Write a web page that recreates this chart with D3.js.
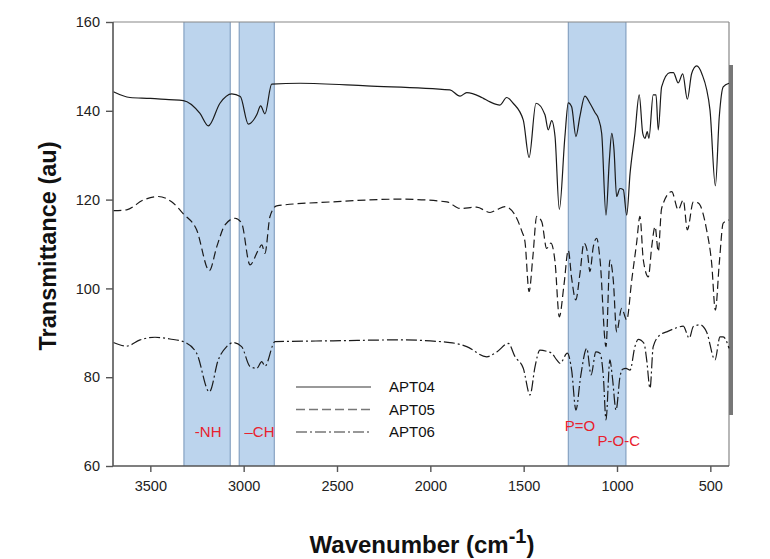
<!DOCTYPE html>
<html>
<head>
<meta charset="utf-8">
<script src="https://cdn.jsdelivr.net/npm/d3@7"></script>
<style>
  body { margin: 0; background: #fff; }
  svg { display: block; font-family: "Liberation Sans", Arial, sans-serif; }
</style>
</head>
<body>
<svg id="chart" width="770" height="559"></svg>
<script>
// ---------------- data ----------------
const xTicks = [3500, 3000, 2500, 2000, 1500, 1000, 500];
const yTicks = [60, 80, 100, 120, 140, 160];
const seriesNames = ["APT04", "APT05", "APT06"];

// [wavenumber (cm-1), transmittance (au)]
const apt04 = [
  [3698,144.3],[3609,143.0],[3500,142.8],[3400,142.5],[3323,142.3],[3234,139.4],[3189,136.6],[3127,141.7],
  [3064,143.8],[3018,143.2],[2975,137.0],[2930,139.1],[2909,141.1],[2886,139.3],[2850,146.0],
  [2698,146.2],[2341,145.6],[1895,144.7],[1841,143.3],[1805,144.1],[1734,143.2],[1716,142.8],
  [1680,142.0],[1627,141.3],[1591,143.0],[1556,141.7],[1502,137.9],[1471,129.5],[1434,141.7],
  [1386,139.1],[1368,135.7],[1350,137.8],[1332,134.2],[1309,117.8],[1279,134.2],[1261,141.8],
  [1243,140.9],[1220,134.2],[1199,138.7],[1172,143.3],[1145,141.7],[1118,139.6],[1100,138.3],
  [1082,134.9],[1059,116.5],[1041,128.9],[1028,134.9],[1016,131.2],[1002,120.7],[984,122.5],
  [966,122.2],[948,116.5],[930,125.9],[904,134.9],[881,143.6],[862,134.9],[850,133.8],
  [838,135.3],[829,133.8],[806,143.6],[791,143.6],[779,135.7],[761,145.4],[716,148.6],
  [698,148.6],[672,146.3],[648,148.3],[623,142.6],[600,148.4],[573,150.1],[546,148.4],
  [502,140.2],[473,123.1],[452,138.7],[431,145.4],[400,146.2]
];
const apt05 = [
  [3698,117.5],[3627,117.7],[3538,119.9],[3457,120.7],[3386,119.5],[3323,116.8],[3252,113.2],
  [3184,104.0],[3144,109.4],[3100,114.3],[3046,115.8],[3011,114.7],[2966,105.3],[2922,108.6],
  [2903,109.8],[2886,107.9],[2859,116.2],[2823,118.6],[2520,119.5],[2163,120.1],[1912,119.5],
  [1841,118.0],[1752,118.3],[1680,117.1],[1644,117.7],[1600,118.4],[1546,116.5],[1511,113.0],
  [1493,110.5],[1471,99.3],[1451,107.0],[1430,116.2],[1403,115.0],[1377,109.0],[1354,110.2],
  [1332,106.0],[1309,93.6],[1284,100.8],[1261,108.6],[1243,102.3],[1221,97.4],[1198,103.5],
  [1177,110.2],[1159,108.3],[1145,103.8],[1127,109.4],[1109,111.3],[1091,106.5],[1059,86.9],
  [1038,106.4],[1020,101.9],[1002,90.2],[975,95.5],[948,92.9],[921,101.9],[895,110.2],
  [877,116.2],[859,106.4],[832,102.6],[814,109.4],[796,113.9],[779,108.3],[761,118.0],
  [707,121.8],[672,117.7],[645,119.9],[623,113.2],[591,119.5],[564,119.2],[520,113.2],
  [493,105.7],[473,95.1],[452,105.7],[431,114.7],[400,115.4]
];
const apt06 = [
  [3698,87.8],[3627,87.0],[3555,88.4],[3475,89.0],[3395,88.6],[3323,88.0],[3252,85.4],
  [3184,76.7],[3136,83.9],[3091,86.9],[3056,87.8],[3011,86.9],[2966,82.4],[2930,82.0],
  [2903,83.5],[2886,82.5],[2832,88.0],[2520,88.2],[2163,88.4],[1895,87.8],[1805,86.9],
  [1698,84.6],[1644,85.7],[1582,87.6],[1546,84.6],[1502,82.0],[1466,76.0],[1439,82.4],
  [1413,86.1],[1368,85.7],[1350,85.4],[1323,83.9],[1305,83.1],[1266,85.4],[1243,81.6],
  [1220,72.6],[1195,80.1],[1162,86.5],[1139,80.5],[1113,85.7],[1091,85.4],[1073,80.1],
  [1059,70.4],[1038,83.9],[1025,80.1],[1005,72.6],[984,80.1],[970,81.8],[952,82.0],
  [930,81.6],[904,86.9],[886,88.5],[855,87.6],[841,83.9],[823,77.5],[806,86.9],[770,89.5],
  [734,90.2],[689,91.0],[645,91.5],[613,88.8],[591,91.4],[555,91.8],[520,90.2],[475,83.9],
  [448,89.1],[431,89.1],[400,86.5]
];
// highlighted bands [from, to] in cm-1
const bands = [[3320, 3072], [3024, 2836], [1261, 952]];
// band annotations: [label, wavenumber, transmittance]
const bandLabels = [["-NH", 3190, 67.7], ["\u2013CH", 2915, 67.7], ["P=O", 1198, 69.0], ["P-O-C", 990, 65.6]];

// ---------------- layout ----------------
const svg = d3.select("#chart");
const L = 113, R = 729, T = 22, B = 466;
const x = d3.scaleLinear().domain([3700, 400]).range([L, R]);
const y = d3.scaleLinear().domain([60, 160]).range([B, T]);

// bands
svg.append("g").selectAll("rect").data(bands).join("rect")
  .attr("x", d => x(d[0])).attr("y", T)
  .attr("width", d => x(d[1]) - x(d[0])).attr("height", B - T)
  .attr("fill", "#bcd4ed");
svg.append("g").selectAll("line").data(bands.flat()).join("line")
  .attr("x1", d => x(d)).attr("x2", d => x(d)).attr("y1", T).attr("y2", B)
  .attr("stroke", "#7795b8").attr("stroke-width", 1);

// frame: top and right
svg.append("line").attr("x1", L).attr("x2", R).attr("y1", T).attr("y2", T)
  .attr("stroke", "#888").attr("stroke-width", 1.2);
svg.append("line").attr("x1", R).attr("x2", R).attr("y1", T).attr("y2", B)
  .attr("stroke", "#888").attr("stroke-width", 1.2);
svg.append("rect").attr("x", R).attr("y", 65).attr("width", 4).attr("height", 350).attr("fill", "#777");

// curves
const line = d3.line().x(d => x(d[0])).y(d => y(d[1])).curve(d3.curveMonotoneX);
const styles = [
  { data: apt04, dash: null },
  { data: apt05, dash: "8,4" },
  { data: apt06, dash: "11,3,2,3" }
];
svg.append("g").selectAll("path").data(styles).join("path")
  .attr("d", d => line(d.data))
  .attr("fill", "none").attr("stroke", "#1a1a1a").attr("stroke-width", 1.2)
  .attr("stroke-dasharray", d => d.dash);

// axes
const xAxis = svg.append("g").attr("transform", `translate(0,${B})`)
  .call(d3.axisBottom(x).tickValues(xTicks).tickSize(6).tickPadding(9).tickFormat(d3.format("d")));
const yAxis = svg.append("g").attr("transform", `translate(${L},0)`)
  .call(d3.axisLeft(y).tickValues(yTicks).tickSize(7).tickPadding(6));
[xAxis, yAxis].forEach(a => {
  a.select(".domain").attr("stroke", "#555").attr("stroke-width", 1.6);
  a.selectAll(".tick line").attr("stroke", "#555").attr("stroke-width", 1.4);
  a.selectAll(".tick text").attr("fill", "#222").style("font-size", "14.5px")
    .style("font-family", "'Liberation Sans', Arial, sans-serif");
});
xAxis.select(".domain").attr("d", `M${L},0H${R}`);
yAxis.select(".domain").attr("d", `M0,${B}V${T}`);

// axis titles
svg.append("text").attr("transform", "translate(56,246) rotate(-90)")
  .attr("text-anchor", "middle").attr("font-weight", "bold").attr("font-size", 23.5)
  .attr("fill", "#111").text("Transmittance (au)");
const xt = svg.append("text").attr("x", 422).attr("y", 553)
  .attr("text-anchor", "middle").attr("font-weight", "bold").attr("font-size", 24).attr("fill", "#111");
xt.append("tspan").text("Wavenumber (cm");
xt.append("tspan").attr("dy", -10).attr("font-size", 20).text("-1");
xt.append("tspan").attr("dy", 10).text(")");

// band labels
svg.append("g").selectAll("text").data(bandLabels).join("text")
  .attr("x", d => x(d[1])).attr("y", d => y(d[2]) + 5)
  .attr("text-anchor", "middle").attr("font-size", 15).attr("fill", "#e8212e")
  .text(d => d[0]);

// legend
const lg = svg.append("g");
const legendDash = [null, "9,4", "11,3,2,3"];
seriesNames.forEach((n, i) => {
  const yy = 387 + i * 22.5;
  lg.append("line").attr("x1", 296).attr("x2", 371).attr("y1", yy).attr("y2", yy)
    .attr("stroke", "#777").attr("stroke-width", 1.3).attr("stroke-dasharray", legendDash[i]);
  lg.append("text").attr("x", 389).attr("y", yy + 5).attr("font-size", 15).attr("fill", "#111").text(n);
});
</script>
</body>
</html>
